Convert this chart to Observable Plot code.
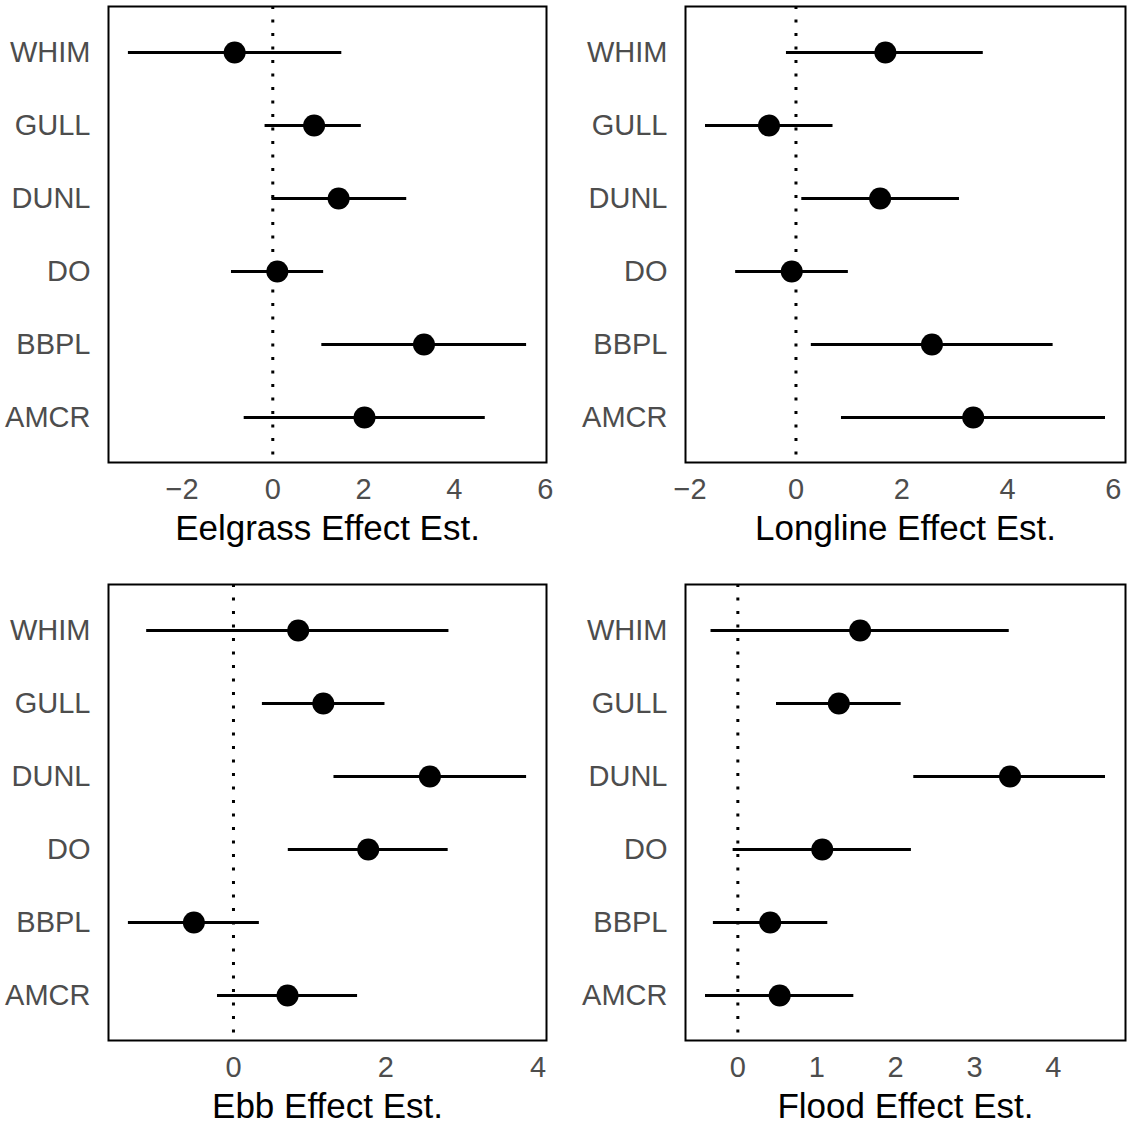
<!DOCTYPE html>
<html>
<head>
<meta charset="utf-8">
<script src="https://cdn.jsdelivr.net/npm/d3@7"></script>
<script src="https://cdn.jsdelivr.net/npm/@observablehq/plot@0.6"></script>
<style>
  html, body { margin: 0; padding: 0; background: white; }
  #chart { position: relative; width: 1129px; height: 1127px; background: white; }
  #chart svg { position: absolute; }
</style>
</head>
<body>
<div id="chart"></div>
<script>
const species = ["WHIM", "GULL", "DUNL", "DO", "BBPL", "AMCR"];

const eelgrassEst = [-0.84, 0.91, 1.45, 0.10, 3.33, 2.02];
const eelgrassLo  = [-3.18, -0.17, -0.02, -0.91, 1.08, -0.63];
const eelgrassHi  = [1.52, 1.95, 2.95, 1.12, 5.59, 4.68];

const longlineEst = [1.69, -0.51, 1.59, -0.08, 2.57, 3.35];
const longlineLo  = [-0.18, -1.71, 0.11, -1.14, 0.29, 0.86];
const longlineHi  = [3.54, 0.70, 3.09, 0.99, 4.86, 5.85];

const ebbEst = [0.85, 1.18, 2.58, 1.77, -0.52, 0.71];
const ebbLo  = [-1.14, 0.38, 1.32, 0.72, -1.38, -0.21];
const ebbHi  = [2.83, 1.99, 3.85, 2.82, 0.34, 1.63];

const floodEst = [1.55, 1.28, 3.45, 1.07, 0.41, 0.53];
const floodLo  = [-0.34, 0.49, 2.23, -0.06, -0.31, -0.41];
const floodHi  = [3.44, 2.07, 4.66, 2.20, 1.14, 1.47];

const eelgrassTicks = [-2, 0, 2, 4, 6];
const longlineTicks = [-2, 0, 2, 4, 6];
const ebbTicks = [0, 2, 4];
const floodTicks = [0, 1, 2, 3, 4];

const titles = ["Eelgrass Effect Est.", "Longline Effect Est.", "Ebb Effect Est.", "Flood Effect Est."];

const fmt = d => (d < 0 ? "\u2212" + Math.abs(d) : String(d));

function rowsOf(est, lo, hi) {
  return species.map((sp, i) => ({sp, est: est[i], lo: lo[i], hi: hi[i]}));
}

function panel({est, lo, hi, ticks, title, left, top, width, height, mL, mR, mT, mB, titleDy}) {
  const rows = rowsOf(est, lo, hi);
  const mn = d3.min(lo), mx = d3.max(hi), w = mx - mn;
  const svg = Plot.plot({
    width, height,
    marginLeft: mL, marginRight: mR, marginTop: mT, marginBottom: mB,
    style: {fontFamily: "'Liberation Sans', Arial, Helvetica, sans-serif", background: "white", overflow: "visible"},
    x: {domain: [mn - 0.05 * w, mx + 0.05 * w]},
    y: {type: "point", domain: species, padding: 0.6},
    marks: [
      Plot.ruleX([0], {stroke: "black", strokeWidth: 3, strokeDasharray: "3,10.5"}),
      Plot.ruleY(rows, {y: "sp", x1: "lo", x2: "hi", stroke: "black", strokeWidth: 3}),
      Plot.dot(rows, {x: "est", y: "sp", r: 11, fill: "black", stroke: "none"}),
      Plot.frame({stroke: "black", strokeWidth: 2}),
      Plot.axisX({ticks, tickFormat: fmt, tickSize: 0, tickPadding: 16, fontSize: 29, color: "#4d4d4d", label: null}),
      Plot.axisY({tickSize: 0, tickPadding: 18, fontSize: 29, color: "#4d4d4d", label: null}),
      Plot.text([title], {text: d => d, frameAnchor: "bottom", lineAnchor: "middle", dy: titleDy, fontSize: 35, fill: "black"})
    ]
  });
  svg.style.left = left + "px";
  svg.style.top = top + "px";
  document.getElementById("chart").appendChild(svg);
}

panel({est: eelgrassEst, lo: eelgrassLo, hi: eelgrassHi, ticks: eelgrassTicks, title: titles[0],
  left: 0, top: 0, width: 560, height: 560, mL: 108, mR: 14, mT: 6, mB: 98, titleDy: 66});
panel({est: longlineEst, lo: longlineLo, hi: longlineHi, ticks: longlineTicks, title: titles[1],
  left: 560, top: 0, width: 569, height: 560, mL: 125, mR: 4, mT: 6, mB: 98, titleDy: 66});
panel({est: ebbEst, lo: ebbLo, hi: ebbHi, ticks: ebbTicks, title: titles[2],
  left: 0, top: 560, width: 560, height: 567, mL: 108, mR: 14, mT: 24, mB: 87, titleDy: 66});
panel({est: floodEst, lo: floodLo, hi: floodHi, ticks: floodTicks, title: titles[3],
  left: 560, top: 560, width: 569, height: 567, mL: 125, mR: 4, mT: 24, mB: 87, titleDy: 66});
</script>
</body>
</html>
